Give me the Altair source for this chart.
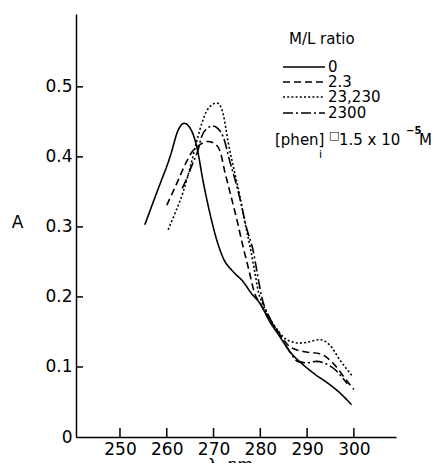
import altair as alt
import pandas as pd

series_names = ["0", "2.3", "23,230", "2300"]

wl_0 = [255.3, 257.8, 260.7, 262.5, 263.7, 265.0, 266.4, 267.8, 269.2, 270.7, 272.1, 274.2,
        276.3, 278.1, 280.0, 282.0, 284.0, 286.3, 289.2, 292.0, 294.2, 297.0, 299.5]
a_0 = [0.303, 0.348, 0.400, 0.439, 0.448, 0.441, 0.415, 0.364, 0.320, 0.281, 0.255, 0.236,
       0.222, 0.205, 0.190, 0.165, 0.145, 0.122, 0.103, 0.088, 0.078, 0.063, 0.046]

wl_1 = [260.0, 262.0, 264.0, 265.5, 267.0, 268.8, 270.2, 271.4, 272.4, 273.5, 275.0, 276.3,
        277.5, 278.8, 280.0, 282.0, 284.0, 286.3, 289.2, 292.7, 295.6, 298.4, 300.0]
a_1 = [0.331, 0.360, 0.390, 0.408, 0.417, 0.422, 0.419, 0.408, 0.379, 0.350, 0.310, 0.272,
       0.240, 0.205, 0.190, 0.168, 0.148, 0.129, 0.122, 0.119, 0.105, 0.081, 0.068]

wl_2 = [260.3, 261.8, 263.5, 265.0, 266.4, 267.5, 268.5, 269.6, 270.7, 271.5, 272.1, 273.1,
        274.6, 275.6, 276.6, 277.8, 278.7, 279.6, 280.5, 282.0, 284.0, 285.6, 288.5, 290.5,
        292.7, 294.9, 297.0, 299.8]
a_2 = [0.296, 0.320, 0.350, 0.385, 0.422, 0.448, 0.465, 0.474, 0.477, 0.472, 0.460, 0.422,
       0.375, 0.345, 0.310, 0.272, 0.240, 0.207, 0.190, 0.170, 0.150, 0.139, 0.134, 0.136,
       0.139, 0.131, 0.110, 0.086]

wl_3 = [263.3, 264.2, 265.5, 266.7, 267.4, 268.5, 269.9, 271.0, 272.1, 273.5, 274.9, 276.0,
        277.0, 278.5, 279.5, 280.3, 282.0, 284.0, 286.0, 288.0, 290.0, 292.0, 294.5, 296.0,
        297.0, 298.6]
a_3 = [0.355, 0.368, 0.390, 0.410, 0.428, 0.440, 0.444, 0.440, 0.428, 0.393, 0.360, 0.330,
       0.300, 0.265, 0.228, 0.200, 0.170, 0.148, 0.125, 0.108, 0.106, 0.108, 0.103, 0.096,
       0.089, 0.076]

x_ticks = [250, 260, 270, 280, 290, 300]
y_ticks = [0, 0.1, 0.2, 0.3, 0.4, 0.5]

dash_styles = [[1, 0], [7, 4], [2, 2.2], [10, 3, 2, 3]]

FONT = "DejaVu Sans"
PLOT_H = 423

rows = []
for name, wls, vals in zip(series_names, [wl_0, wl_1, wl_2, wl_3], [a_0, a_1, a_2, a_3]):
    for i, (w, a) in enumerate(zip(wls, vals)):
        rows.append({"series": name, "wl": w, "a": a, "idx": i})
df = pd.DataFrame(rows)

xscale = alt.Scale(domain=[240.6, 309], nice=False, zero=False)
yscale = alt.Scale(domain=[0, 0.604], nice=False, zero=True)

lines = alt.Chart(df).mark_line(color="black", strokeWidth=1.6, interpolate="monotone").encode(
    x=alt.X("wl:Q", scale=xscale,
            axis=alt.Axis(values=x_ticks, ticks=False, tickSize=0, grid=False, labelPadding=4,
                          title="λ, nm", titleFont=FONT, titleFontSize=16, titleFontWeight="normal",
                          titleX=154, titleY=19, titleBaseline="top", titleAnchor="start",
                          titleAlign="center")),
    y=alt.Y("a:Q", scale=yscale,
            axis=alt.Axis(values=y_ticks, ticks=False, tickSize=0, grid=False, labelPadding=4,
                          labelExpr="datum.value == 0 ? '0' : format(datum.value, '.1f')",
                          title="A", titleAngle=0, titleFont=FONT, titleFontSize=17,
                          titleFontWeight="normal", titleX=-59, titleY=208,
                          titleAlign="center", titleBaseline="middle")),
    strokeDash=alt.StrokeDash("series:N", scale=alt.Scale(domain=series_names, range=dash_styles),
                              legend=None),
    order="idx:Q",
)

ytick_df = pd.DataFrame({"a": y_ticks[1:]})
yticks = alt.Chart(ytick_df).mark_rule(color="black", strokeWidth=1.5).encode(
    y=alt.Y("a:Q", scale=yscale), x=alt.value(0), x2=alt.value(7))

xtick_df = pd.DataFrame({"wl": x_ticks})
xticks = alt.Chart(xtick_df).mark_rule(color="black", strokeWidth=1.5).encode(
    x=alt.X("wl:Q", scale=xscale), y=alt.value(PLOT_H), y2=alt.value(PLOT_H - 9))

layers = [lines, yticks, xticks]

# legend (drawn manually); y positions relative to the plot top (page y 14)
legend_title = alt.Chart(pd.DataFrame({"t": ["M/L  ratio"]})).mark_text(
    align="left", baseline="middle", font=FONT, fontSize=15, color="black").encode(
    x=alt.value(213), y=alt.value(25), text="t:N")
layers.append(legend_title)

row_y = [53, 68, 83, 99]
for name, dash, ry in zip(series_names, dash_styles, row_y):
    sample = alt.Chart(pd.DataFrame({"s": [name]})).mark_rule(
        color="black", strokeWidth=1.6, strokeDash=dash).encode(
        x=alt.value(207), x2=alt.value(249), y=alt.value(ry))
    label = alt.Chart(pd.DataFrame({"s": [name]})).mark_text(
        align="left", baseline="middle", font=FONT, fontSize=15, color="black").encode(
        x=alt.value(252), y=alt.value(ry), text="s:N")
    layers += [sample, label]

note_parts = [
    ("[phen]", 199, 126, 15, "normal"),
    ("i", 243, 141, 11, "normal"),
    ("□", 253, 122, 11, "bold"),
    ("1.5 x 10", 263, 126, 15, "normal"),
    ("−5", 330, 117, 10, "bold"),
    ("M", 343, 126, 15, "normal"),
]
for txt, px, py, fs, fw in note_parts:
    layers.append(alt.Chart(pd.DataFrame({"t": [txt]})).mark_text(
        align="left", baseline="middle", font=FONT, fontSize=fs, fontWeight=fw, color="black").encode(
        x=alt.value(px), y=alt.value(py), text="t:N"))

chart = alt.layer(*layers).properties(
    width=320, height=PLOT_H,
    autosize=alt.AutoSizeParams(type="none"),
    padding={"left": 68, "top": 6, "right": 36, "bottom": 26},
    background="white",
).configure_view(stroke=None).configure_axis(
    labelFont=FONT, labelFontSize=17, labelColor="black",
    domainColor="black", domainWidth=1.5, titleColor="black",
)

chart.save("out.html", embed_options={"renderer": "svg", "actions": False})
